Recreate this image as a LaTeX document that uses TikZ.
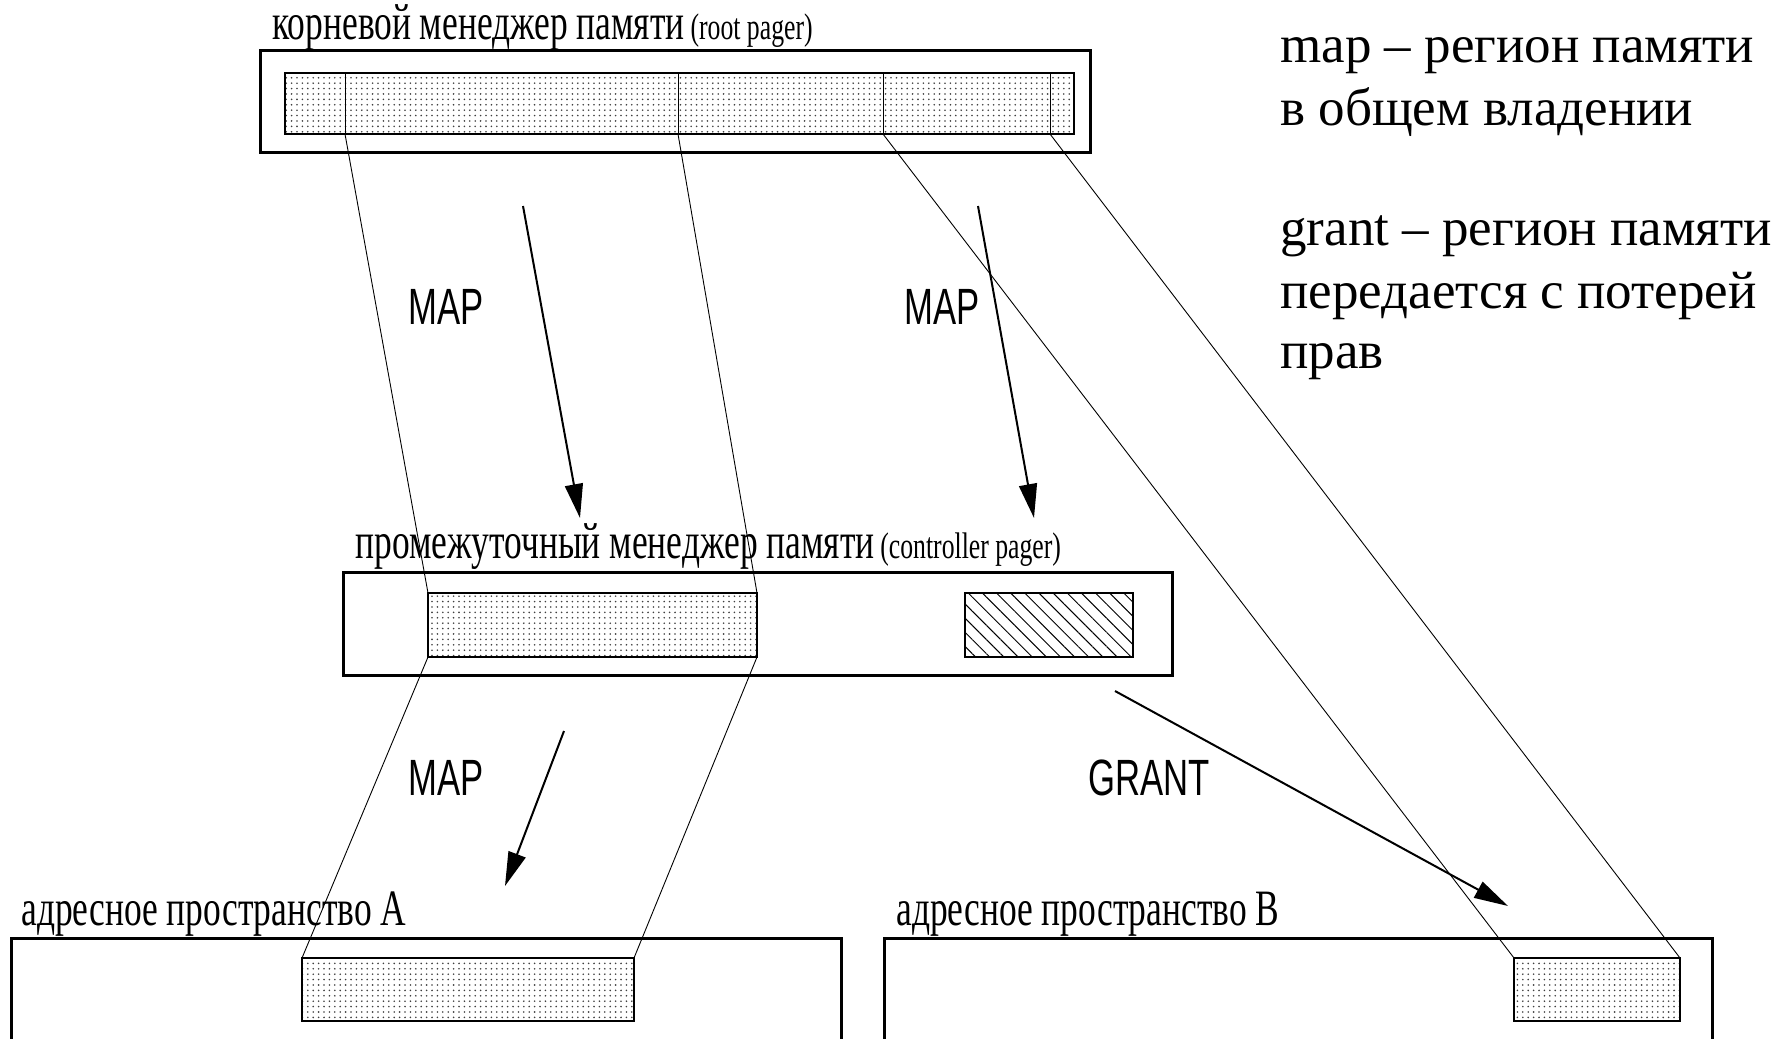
\documentclass[tikz,border=0pt]{standalone}
\usepackage{fontspec}
\setmainfont{Liberation Serif}
\newfontfamily\opfont{Liberation Sans}
\usetikzlibrary{fit,patterns.meta,arrows.meta}

% condensed serif captions above each memory space
\newcommand{\spacecaption}[2]{\scalebox{0.695}[1]{\fontsize{25.5}{25.5}\selectfont #1\,\fontsize{18.5}{18.5}\selectfont #2}}
% condensed sans operation labels
\newcommand{\oplabel}[1]{\scalebox{0.68}[1]{\opfont\fontsize{25.5}{25.5}\selectfont #1}}

\begin{document}
\begin{tikzpicture}[x=0.5pt,y=-0.5pt,
  outerbox/.style={draw, line width=1.5pt, inner sep=0pt, outer sep=0pt},
  dotbox/.style={draw, line width=1pt, inner sep=0pt, outer sep=0pt,
    pattern={Dots[radius=0.45pt,distance=2.7pt]}, pattern color=black!75},
  hatchbox/.style={draw, line width=0.8pt, inner sep=0pt, outer sep=0pt,
    pattern={Lines[angle=-45,distance=5pt,line width=0.5pt]}},
  seg/.style={inner sep=0pt, outer sep=0pt},
  link/.style={line width=0.45pt},
  op/.style={line width=1pt, -{Triangle[length=17pt,width=9pt]}},
  caption/.style={anchor=base west, inner sep=0pt},
  legend/.style={anchor=base west, inner sep=0pt, font=\fontsize{26.5}{31}\selectfont},
  oplab/.style={anchor=base, inner sep=0pt}
]
\useasboundingbox (0,0) rectangle (1789,1039);
\clip (0,0) rectangle (1789,1039);

% root pager
\node[caption] (roottitle) at (272,39) {\spacecaption{корневой менеджер памяти}{(root pager)}};
\node[outerbox, fit={(260,50) (1090,152)}] (root) {};
\node[dotbox, fit={(285,73) (1074,134)}] (strip) {};
\node[seg, fit={(285,73) (345,134)}] (s0) {};
\node[seg, fit={(345,73) (678,134)}] (s1) {};
\node[seg, fit={(678,73) (883,134)}] (s2) {};
\node[seg, fit={(883,73) (1050,134)}] (s3) {};
\node[seg, fit={(1050,73) (1074,134)}] (s4) {};
\foreach \s in {s1,s2,s3,s4}
  \draw[link] (\s.north west) -- (\s.south west);

% controller pager
\node[caption] (ctltitle) at (355,558) {\spacecaption{промежуточный менеджер памяти}{(controller pager)}};
\node[outerbox, fit={(343,572) (1172,675)}] (ctl) {};
\node[dotbox, fit={(428,593) (757,657)}] (cmap) {};
\node[hatchbox, fit={(965,593) (1133,657)}] (cown) {};

% address spaces
\node[caption] (atitle) at (21,925) {\spacecaption{адресное пространство A}{}};
\node[outerbox, fit={(11,938) (841,1080)}] (aspace) {};
\node[dotbox, fit={(302,958) (634,1021)}] (amap) {};

\node[caption] (btitle) at (896,925) {\spacecaption{адресное пространство B}{}};
\node[outerbox, fit={(884,938) (1712,1080)}] (bspace) {};
\node[dotbox, fit={(1514,958) (1680,1021)}] (bmap) {};

% region correspondences
\draw[link] (s1.south west) -- (cmap.north west);
\draw[link] (s1.south east) -- (cmap.north east);
\draw[link] (s3.south west) -- (bmap.north west);
\draw[link] (s3.south east) -- (bmap.north east);
\draw[link] (cmap.south west) -- (amap.north west);
\draw[link] (cmap.south east) -- (amap.north east);

% operations
\coordinate (m1a) at (523,206);  \coordinate (m1b) at (580,518);
\coordinate (m2a) at (978,206);  \coordinate (m2b) at (1034,518);
\coordinate (m3a) at (564,731);  \coordinate (m3b) at (505,886);
\coordinate (ga)  at (1115,691); \coordinate (gb)  at (1508,906);
\draw[op] (m1a) -- (m1b);
\draw[op] (m2a) -- (m2b);
\draw[op] (m3a) -- (m3b);
\draw[op] (ga) -- (gb);
\node[oplab] (lm1) at (446,324) {\oplabel{MAP}};
\node[oplab] (lm2) at (942,324) {\oplabel{MAP}};
\node[oplab] (lm3) at (446,795) {\oplabel{MAP}};
\node[oplab] (lg)  at (1149,795) {\oplabel{GRANT}};

% legend
\node[legend] (leg1) at (1280,62)  {map – регион памяти};
\node[legend] (leg2) at (1280,125) {в общем владении};
\node[legend] (leg3) at (1280,245) {grant – регион памяти};
\node[legend] (leg4) at (1280,308) {передается с потерей};
\node[legend] (leg5) at (1280,368) {прав};
\end{tikzpicture}
\end{document}
